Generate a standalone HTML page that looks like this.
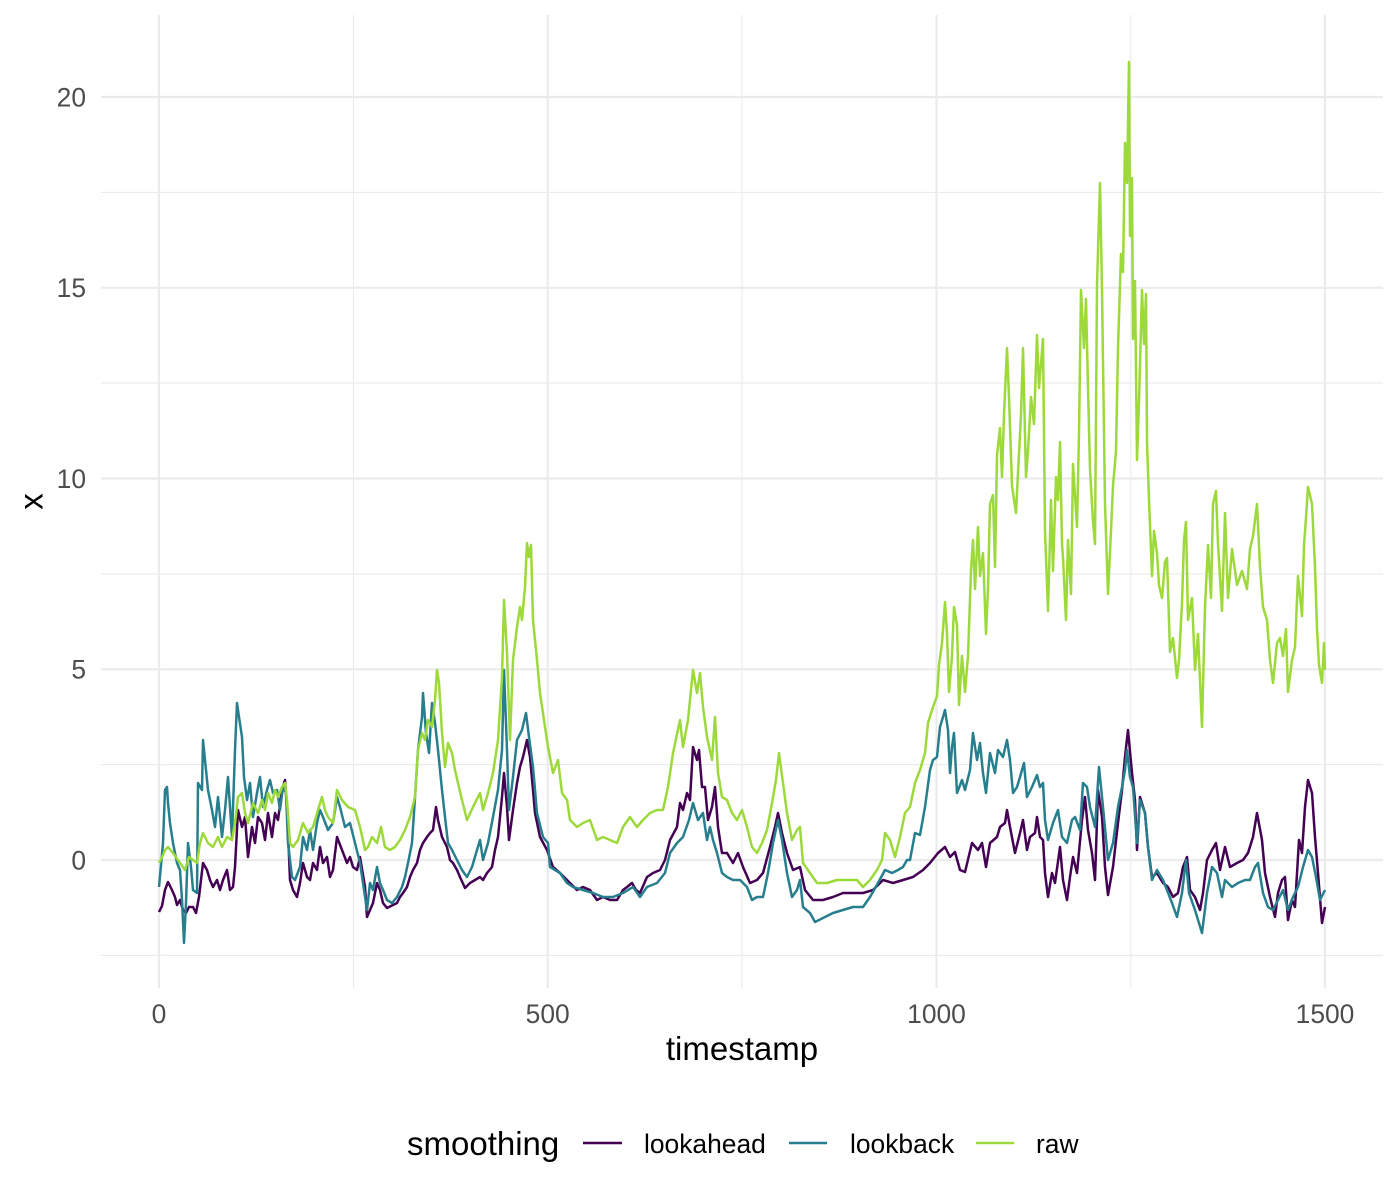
<!DOCTYPE html>
<html>
<head>
<meta charset="utf-8">
<style>
html,body{margin:0;padding:0;background:#fff;}
svg{display:block;}
text{font-family:"Liberation Sans",Arial,sans-serif;}
</style>
</head>
<body>
<svg width="1400" height="1200" viewBox="0 0 1400 1200" xmlns="http://www.w3.org/2000/svg">
<rect width="1400" height="1200" fill="#fff"/>
<!-- minor grid -->
<g stroke="#EBEBEB" stroke-width="1.1" fill="none">
<line x1="101" y1="955.4" x2="1383" y2="955.4"/>
<line x1="101" y1="764.6" x2="1383" y2="764.6"/>
<line x1="101" y1="573.9" x2="1383" y2="573.9"/>
<line x1="101" y1="383.1" x2="1383" y2="383.1"/>
<line x1="101" y1="192.4" x2="1383" y2="192.4"/>
<line x1="353.5" y1="15" x2="353.5" y2="988"/>
<line x1="742" y1="15" x2="742" y2="988"/>
<line x1="1130.8" y1="15" x2="1130.8" y2="988"/>
</g>
<!-- major grid -->
<g stroke="#EBEBEB" stroke-width="2.2" fill="none">
<line x1="101" y1="860" x2="1383" y2="860"/>
<line x1="101" y1="669.3" x2="1383" y2="669.3"/>
<line x1="101" y1="478.5" x2="1383" y2="478.5"/>
<line x1="101" y1="287.8" x2="1383" y2="287.8"/>
<line x1="101" y1="97" x2="1383" y2="97"/>
<line x1="159" y1="15" x2="159" y2="988"/>
<line x1="547.7" y1="15" x2="547.7" y2="988"/>
<line x1="936.5" y1="15" x2="936.5" y2="988"/>
<line x1="1325" y1="15" x2="1325" y2="988"/>
</g>
<!-- series -->
<g fill="none" stroke-width="2.5" stroke-linejoin="round">
<polyline stroke="#440154" points="159,912 162,906 165,890 168,882 172,890 175,897 177,905 180,900 183,910 186,913 189,907 193,907 196,913 199,897 203,863 207,870 210,880 213,887 217,880 220,890 223,880 227,870 230,890 233,887 235,867 238,810 242,827 245,817 248,857 252,827 255,843 258,817 262,823 265,840 268,813 272,837 275,813 278,820 282,790 285,780 287,807 290,880 293,890 297,897 300,883 303,863 307,877 310,880 313,863 317,870 320,847 323,863 327,857 330,877 333,870 337,837 342,850 347,863 350,857 353,867 357,870 360,857 365,887 367,917 370,910 373,903 377,883 380,890 383,903 387,908 393,905 397,903 400,897 403,893 407,887 410,877 413,870 417,863 420,850 423,843 427,837 430,833 433,830 436,807 438,820 442,837 447,847 450,860 453,863 457,870 460,877 465,888 470,883 475,880 480,877 483,880 487,873 492,867 495,850 498,837 502,797 504,773 507,807 509,840 513,810 517,783 520,767 523,757 527,740 530,757 533,790 535,813 540,837 547,850 553,867 560,873 567,880 577,890 583,887 590,890 597,900 603,897 610,900 617,900 623,890 627,887 632,883 636,890 640,893 647,877 653,873 660,870 665,860 670,840 677,827 680,803 683,810 687,793 690,800 693,747 697,760 699,750 702,787 705,787 708,820 712,807 715,787 718,827 722,853 727,853 733,863 738,853 743,867 750,883 757,880 763,873 770,847 775,827 778,813 782,833 787,853 793,870 800,867 805,890 813,900 823,900 833,897 843,893 853,893 863,893 873,890 883,880 893,883 903,880 913,877 923,870 930,863 938,853 945,847 950,857 955,852 960,870 965,872 972,843 978,850 982,843 986,867 990,843 997,837 1000,827 1005,823 1007,810 1010,827 1015,853 1020,833 1023,820 1027,850 1030,837 1035,833 1037,817 1040,837 1043,840 1045,873 1048,897 1052,873 1055,883 1060,847 1063,880 1067,900 1070,877 1073,857 1077,873 1082,820 1085,797 1088,830 1092,853 1095,880 1098,790 1102,817 1105,867 1108,895 1113,867 1118,823 1122,790 1125,757 1128,730 1132,773 1135,800 1137,850 1140,797 1145,813 1148,847 1152,877 1157,873 1163,883 1168,887 1173,897 1178,893 1183,867 1187,857 1190,890 1195,897 1200,910 1203,893 1207,860 1212,850 1216,843 1220,870 1225,847 1230,867 1237,863 1243,860 1248,853 1253,837 1257,813 1262,840 1265,873 1270,897 1275,917 1278,893 1282,880 1285,877 1288,920 1292,900 1295,907 1299,840 1302,853 1305,807 1308,780 1312,793 1315,837 1318,873 1322,923 1325,907"/>
<polyline stroke="#277F8E" points="159,887 163,843 165,790 167,787 168,803 170,823 173,843 177,863 180,870 182,900 184,943 186,903 188,843 191,867 193,890 197,893 198,783 202,790 203,740 206,770 208,790 212,810 215,827 218,797 222,837 225,810 228,777 232,837 235,750 237,703 239,717 242,737 244,777 247,800 250,783 253,817 257,793 260,777 263,807 267,790 270,780 273,793 277,790 280,810 283,787 286,793 288,843 292,877 295,880 300,867 303,837 307,850 310,830 313,850 317,823 320,810 323,817 328,830 333,823 337,797 340,807 345,827 350,823 355,843 360,863 363,883 367,910 370,883 373,890 377,867 380,883 383,890 387,900 392,903 397,897 402,887 405,877 408,863 412,843 415,797 418,750 422,717 423,693 426,733 429,753 432,703 435,723 438,750 442,790 445,817 448,843 452,850 457,860 462,870 467,877 472,867 477,850 480,840 483,860 488,843 493,817 498,790 502,750 504,670 507,750 509,810 513,777 517,740 522,730 526,713 529,737 533,767 537,813 543,837 548,843 550,867 555,870 560,873 567,883 573,887 583,890 593,893 603,897 613,897 623,893 633,887 640,897 647,887 657,883 665,873 670,853 677,843 683,837 689,820 693,803 698,820 703,813 707,840 710,827 713,840 717,853 722,873 727,877 733,880 740,880 747,887 752,900 757,897 763,897 768,873 773,843 778,820 782,840 787,873 792,897 797,890 800,880 803,907 810,913 815,922 823,918 833,913 843,910 853,907 863,907 870,897 878,883 885,870 892,873 898,870 903,867 907,860 910,860 915,833 920,835 925,807 930,770 933,760 937,757 940,727 943,717 945,710 948,730 950,773 952,747 954,733 957,793 962,780 965,790 970,770 973,733 977,760 980,743 983,773 986,793 990,753 995,773 998,750 1003,757 1007,740 1010,760 1013,793 1017,787 1020,777 1024,763 1027,797 1032,787 1037,775 1040,787 1043,783 1045,820 1048,840 1053,823 1058,810 1062,837 1067,843 1072,820 1075,817 1080,830 1083,783 1087,787 1090,807 1095,827 1099,767 1103,807 1108,860 1113,843 1118,807 1122,787 1125,770 1127,750 1130,777 1133,787 1137,843 1140,800 1145,813 1148,847 1152,880 1157,870 1163,880 1167,890 1172,903 1177,917 1182,893 1186,860 1189,893 1195,910 1202,933 1207,893 1212,867 1217,873 1222,897 1225,880 1232,887 1238,883 1245,880 1250,880 1255,867 1258,863 1263,893 1268,907 1273,910 1278,900 1283,890 1288,910 1293,897 1298,887 1303,867 1308,850 1312,857 1316,877 1320,900 1325,890"/>
<polyline stroke="#9DD93B" points="159,863 163,855 165,850 168,847 173,853 180,863 185,870 189,857 193,860 197,863 200,843 203,833 208,843 213,847 218,837 222,847 227,837 232,840 235,823 238,797 242,793 245,813 248,823 253,803 258,813 262,800 265,810 268,793 272,803 275,790 278,797 282,787 285,783 287,800 290,843 293,847 298,840 303,823 308,833 313,827 318,810 322,797 325,810 328,817 333,823 337,790 342,800 348,807 355,810 360,827 365,850 368,847 372,837 377,843 381,827 385,847 390,850 395,847 400,840 405,830 410,817 415,797 418,750 422,733 425,740 428,720 432,727 435,700 437,670 439,683 442,733 445,767 448,743 452,753 455,770 458,783 462,800 467,820 473,807 480,793 483,810 488,793 493,773 498,740 502,677 504,600 507,653 510,740 513,660 517,627 520,607 522,620 525,587 527,543 529,557 531,545 533,620 537,660 540,693 545,727 548,747 553,773 558,760 562,793 567,800 570,820 577,827 583,823 590,820 597,840 603,837 610,840 617,843 623,827 630,817 637,827 643,820 650,813 657,810 663,810 668,787 673,753 680,720 683,747 688,720 693,670 697,693 700,673 703,707 707,737 712,760 715,717 718,773 722,797 727,800 732,813 737,820 742,810 747,827 752,847 757,853 762,843 767,830 772,803 776,780 779,753 783,783 787,813 792,840 797,830 800,827 803,863 810,873 817,883 827,883 837,880 847,880 857,880 863,887 870,880 877,870 882,860 885,833 890,840 895,857 900,837 905,813 910,807 915,783 920,770 925,753 928,723 932,710 937,696 939,665 942,643 945,602 947,634 949,692 952,656 954,607 957,625 959,705 962,656 965,692 968,656 971,571 973,540 975,589 978,527 980,576 983,553 986,634 988,589 990,504 993,495 995,567 997,455 1000,428 1002,477 1004,415 1007,348 1009,397 1012,486 1016,513 1018,473 1021,415 1023,348 1026,477 1028,451 1031,397 1034,424 1037,335 1039,388 1043,339 1045,531 1048,611 1051,500 1053,571 1056,477 1058,500 1060,442 1062,544 1063,558 1066,620 1068,540 1071,594 1073,464 1077,527 1079,433 1081,290 1084,348 1086,299 1088,388 1090,469 1093,522 1095,544 1097,285 1100,183 1102,290 1105,504 1108,594 1111,531 1113,486 1116,451 1118,348 1121,254 1123,272 1125,143 1127,183 1129,62 1130,236 1132,178 1133,339 1135,281 1137,460 1139,402 1142,290 1144,344 1146,294 1147,442 1149,500 1152,576 1154,531 1157,553 1159,585 1162,598 1165,562 1167,558 1170,652 1173,638 1177,678 1179,660 1182,603 1184,540 1186,522 1188,620 1192,598 1195,670 1198,634 1202,727 1205,607 1208,545 1211,598 1213,504 1216,491 1218,544 1222,611 1225,513 1228,598 1232,549 1237,585 1242,571 1247,589 1250,549 1253,536 1257,504 1260,567 1263,607 1267,620 1270,660 1273,683 1277,643 1280,638 1283,656 1286,629 1288,692 1292,660 1295,647 1298,576 1302,616 1304,545 1306,518 1308,487 1312,504 1315,567 1317,629 1319,665 1322,683 1324,643 1325,670"/>
</g>
<!-- y tick labels -->
<g font-size="26.4" fill="#4D4D4D" text-anchor="end">
<text x="86" y="869.4">0</text>
<text x="86" y="678.7">5</text>
<text x="86" y="487.9">10</text>
<text x="86" y="297.2">15</text>
<text x="86" y="106.4">20</text>
</g>
<!-- x tick labels -->
<g font-size="26.4" fill="#4D4D4D" text-anchor="middle">
<text x="159" y="1023">0</text>
<text x="547.7" y="1023">500</text>
<text x="936.5" y="1023">1000</text>
<text x="1325" y="1023">1500</text>
</g>
<!-- axis titles -->
<text x="742" y="1060" font-size="33" fill="#000" text-anchor="middle">timestamp</text>
<text transform="translate(42.5,501.5) rotate(-90)" font-size="33" fill="#000" text-anchor="middle">x</text>
<!-- legend -->
<text x="407" y="1155" font-size="33" fill="#000">smoothing</text>
<line x1="583" y1="1143" x2="622" y2="1143" stroke="#440154" stroke-width="2.4"/>
<text x="644" y="1153" font-size="26.4" fill="#000">lookahead</text>
<line x1="789" y1="1143" x2="827" y2="1143" stroke="#277F8E" stroke-width="2.4"/>
<text x="850" y="1153" font-size="26.4" fill="#000">lookback</text>
<line x1="976" y1="1143" x2="1014" y2="1143" stroke="#9DD93B" stroke-width="2.4"/>
<text x="1036" y="1153" font-size="26.4" fill="#000">raw</text>
</svg>
</body>
</html>
